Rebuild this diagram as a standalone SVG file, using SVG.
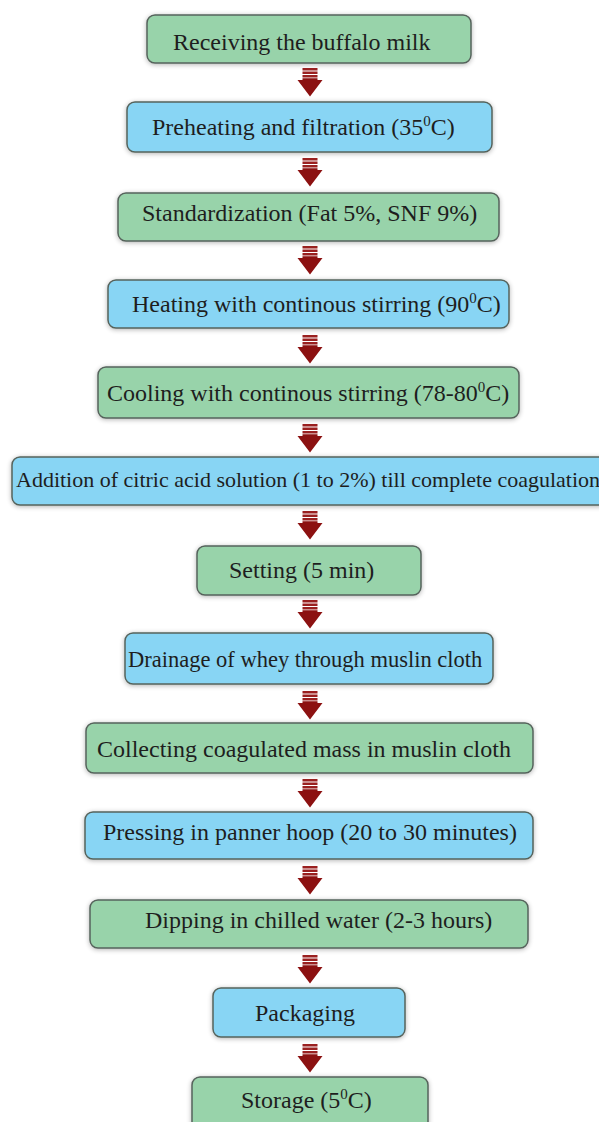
<svg xmlns="http://www.w3.org/2000/svg" width="599" height="1122" viewBox="0 0 599 1122">
<style>
.g{fill:#98d3aa;stroke:#56635c;stroke-width:1.5}
.b{fill:#88d5f4;stroke:#56635c;stroke-width:1.5}
text{font-family:"Liberation Serif","Times New Roman",serif;font-size:24px;fill:#1e1e1e}
.sup{font-size:15px}
.ar{fill:#8c1111}
.st{fill:#9a2020}
</style>
<defs>
<filter id="sh" x="-10%" y="-30%" width="120%" height="160%">
<feGaussianBlur in="SourceAlpha" stdDeviation="2.5"/>
<feOffset dx="0" dy="1" result="o"/>
<feComponentTransfer><feFuncA type="linear" slope="0.3"/></feComponentTransfer>
<feMerge><feMergeNode/><feMergeNode in="SourceGraphic"/></feMerge>
</filter>
<g id="arrow">
<rect class="st" x="-7.5" y="0" width="15" height="2.5"/>
<rect class="st" x="-7.5" y="3.5" width="15" height="2.5"/>
<rect class="st" x="-7.5" y="7" width="15" height="2.5"/>
<path class="ar" d="M-7.5,10.2 H7.5 V12 H12.5 L0,28.5 L-12.5,12 H-7.5 Z"/>
</g>
</defs>
<rect width="599" height="1122" fill="#ffffff"/>
<g id="connectors">
<use href="#arrow" x="310" y="68"/>
<use href="#arrow" x="310" y="158"/>
<use href="#arrow" x="310" y="246"/>
<use href="#arrow" x="310" y="335"/>
<use href="#arrow" x="310" y="424"/>
<use href="#arrow" x="310" y="511"/>
<use href="#arrow" x="310" y="600"/>
<use href="#arrow" x="310" y="691"/>
<use href="#arrow" x="310" y="779"/>
<use href="#arrow" x="310" y="866"/>
<use href="#arrow" x="310" y="955"/>
<use href="#arrow" x="310" y="1044"/>
</g>
<g id="n1"><rect class="g" filter="url(#sh)" x="147" y="15" width="324" height="48" rx="8"/><text x="173" y="50">Receiving the buffalo milk</text></g>
<g id="n2"><rect class="b" filter="url(#sh)" x="127" y="102" width="365" height="50" rx="8"/><text x="152" y="135">Preheating and filtration (35<tspan class="sup" dy="-9">0</tspan><tspan dy="9">C)</tspan></text></g>
<g id="n3"><rect class="g" filter="url(#sh)" x="118" y="193" width="381" height="48" rx="8"/><text x="142" y="221">Standardization (Fat 5%, SNF 9%)</text></g>
<g id="n4"><rect class="b" filter="url(#sh)" x="108" y="280" width="401" height="48" rx="8"/><text x="132" y="312">Heating with continous stirring (90<tspan class="sup" dy="-9">0</tspan><tspan dy="9">C)</tspan></text></g>
<g id="n5"><rect class="g" filter="url(#sh)" x="98" y="367" width="421" height="51" rx="8"/><text x="107" y="401">Cooling with continous stirring (78-80<tspan class="sup" dy="-9">0</tspan><tspan dy="9">C)</tspan></text></g>
<g id="n6"><rect class="b" filter="url(#sh)" x="12" y="457" width="600" height="48" rx="8"/><text x="16" y="487" style="font-size:22px">Addition of citric acid solution (1 to 2%) till complete coagulation</text></g>
<g id="n7"><rect class="g" filter="url(#sh)" x="197" y="546" width="224" height="49" rx="8"/><text x="229" y="578">Setting (5 min)</text></g>
<g id="n8"><rect class="b" filter="url(#sh)" x="125" y="633" width="368" height="51" rx="8"/><text x="128" y="667" style="font-size:22.5px">Drainage of whey through muslin cloth</text></g>
<g id="n9"><rect class="g" filter="url(#sh)" x="86" y="723" width="447" height="50" rx="8"/><text x="97" y="757">Collecting coagulated mass in muslin cloth</text></g>
<g id="n10"><rect class="b" filter="url(#sh)" x="85" y="812" width="448" height="47" rx="8"/><text x="103" y="840">Pressing in panner hoop (20 to 30 minutes)</text></g>
<g id="n11"><rect class="g" filter="url(#sh)" x="90" y="900" width="438" height="48" rx="8"/><text x="145" y="928">Dipping in chilled water (2-3 hours)</text></g>
<g id="n12"><rect class="b" filter="url(#sh)" x="213" y="988" width="192" height="49" rx="8"/><text x="255" y="1021">Packaging</text></g>
<g id="n13"><rect class="g" filter="url(#sh)" x="192" y="1077" width="236" height="60" rx="8"/><text x="241" y="1108">Storage (5<tspan class="sup" dy="-9">0</tspan><tspan dy="9">C)</tspan></text></g>
</svg>
